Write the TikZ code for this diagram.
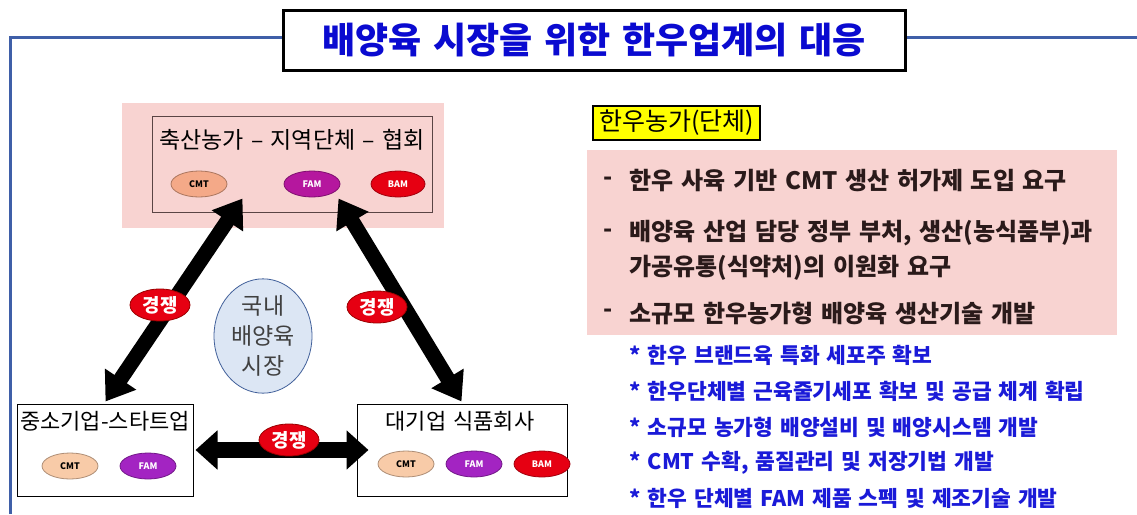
\documentclass[tikz,border=0pt]{standalone}
\usepackage{fontspec}
\setmainfont{Noto Sans CJK KR}[WordSpace=1.4]
\usetikzlibrary{arrows.meta,shapes.geometric,calc}
\definecolor{frameblue}{HTML}{3F5FA8}
\definecolor{titleblue}{HTML}{0A0AD0}
\definecolor{pinkbg}{HTML}{F8D3D1}
\definecolor{boxline}{HTML}{5A4444}
\definecolor{cmttop}{HTML}{F4A988}
\definecolor{cmtbot}{HTML}{F8CBA8}
\definecolor{famtop}{HTML}{B5179E}
\definecolor{fambot}{HTML}{A324C2}
\definecolor{bamred}{HTML}{E60012}
\definecolor{circfill}{HTML}{DCE6F4}
\definecolor{circline}{HTML}{41609A}
\definecolor{darktext}{HTML}{2A1A1A}
\definecolor{itemblue}{HTML}{1A1AD8}
\definecolor{hlyellow}{HTML}{FFFF00}
\tikzset{
  fs/.style={font=\fontsize{#1}{#1}\selectfont},
  entity/.style={draw=black, line width=1pt, fill=white, minimum width=176, minimum height=92},
  tag/.style={ellipse, draw=#1!70!black, line width=0.8pt, fill=#1, minimum width=56, minimum height=26, inner sep=0pt, font=\fontsize{9}{9}\selectfont\bfseries},
  fight/.style={ellipse, draw=red!60!black, line width=0.8pt, fill=bamred, text=white, minimum width=60, minimum height=32, inner sep=0pt, font=\fontsize{19}{19}\selectfont\bfseries},
  bigarrow/.style={line width=15pt, {Triangle[length=27pt,width=36pt]}-{Triangle[length=27pt,width=36pt]}},
  redline/.style={anchor=west, text=darktext, font=\fontsize{24}{24}\selectfont\bfseries},
  blueline/.style={anchor=west, text=itemblue, font=\fontsize{21.5}{21.5}\selectfont\bfseries},
}
\begin{document}
\begin{tikzpicture}[x=1pt,y=-1pt]
\useasboundingbox (0,0) rectangle (1137,514);
\fill[white] (0,0) rectangle (1137,514);
% frame
\draw[frameblue, line width=3pt] (10,514) -- (10,37) -- (1137,37);
\node[draw=black, line width=3pt, fill=white, minimum width=622, minimum height=60, text=titleblue,
      font=\fontsize{36}{36}\selectfont\bfseries] (title) at (594,40) {배양육 시장을 위한 한우업계의 대응};
% left diagram
\fill[pinkbg] (122,103) rectangle (444,228);
\node[draw=boxline, line width=1pt, minimum width=280, minimum height=96] (top) at (292,164) {};
\node[fs=23, anchor=center] (toptext) at (292,140) {축산농가 – 지역단체 – 협회};
\node[tag=cmttop] (tcmt) at (199,184) {CMT};
\node[tag=famtop, text=white] (tfam) at (312,184) {FAM};
\node[tag=bamred, text=white, minimum width=54] (tbam) at (398,184) {BAM};

\node[entity] (bl) at (105,450) {};
\node[fs=22] (bltext) at (105,421) {중소기업-스타트업};
\node[tag=cmtbot] (blcmt) at (70,466) {CMT};
\node[tag=fambot, text=white] (blfam) at (148,466) {FAM};

\node[entity, minimum width=210] (br) at (462,450) {};
\node[fs=22] (brtext) at (460,421) {대기업 식품회사};
\node[tag=cmtbot] (brcmt) at (406,464) {CMT};
\node[tag=fambot, text=white] (brfam) at (474,464) {FAM};
\node[tag=bamred, text=white] (brbam) at (542,464) {BAM};

\node[ellipse, draw=circline, line width=0.8pt, fill=circfill, minimum width=98, minimum height=108, inner sep=0pt,
      text=black!75, align=center, font=\fontsize{23}{30}\selectfont] (market) at (263,336) {국내\\배양육\\시장};

\draw[bigarrow] ([xshift=91pt,yshift=14pt]top.south west) -- ([xshift=89pt,yshift=2pt]bl.north west);
\draw[bigarrow] ([xshift=-94pt,yshift=14pt]top.south east) -- ([xshift=105pt,yshift=2pt]br.north west);
\draw[line width=16pt, {Triangle[length=22pt,width=38pt]}-{Triangle[length=22pt,width=38pt]}] ([xshift=2pt]bl.east) -- ([xshift=12pt]br.west);

\node[fight] (f1) at (160,305) {경쟁};
\node[fight] (f2) at (377,307) {경쟁};
\node[fight] (f3) at (289,440) {경쟁};

% right side
\node[draw=black, line width=2pt, fill=hlyellow, anchor=west, minimum height=34, inner ysep=0pt, inner xsep=6pt,
      font=\fontsize{25}{25}\selectfont] (hanwoo) at (592,123) {한우농가(단체)};
\fill[pinkbg] (587,150) rectangle (1117,335);
\node[redline] (d1) at (600,181) {-};
\node[redline] (r1) at (626,181) {한우 사육 기반 CMT 생산 허가제 도입 요구};
\node[redline] (d2) at (600,233) {-};
\node[redline] (r2) at (626,233) {배양육 산업 담당 정부 부처, 생산(농식품부)과};
\node[redline] (r3) at (626,268) {가공유통(식약처)의 이원화 요구};
\node[redline] (d3) at (600,313) {-};
\node[redline] (r4) at (626,313) {소규모 한우농가형 배양육 생산기술 개발};

\node[blueline] (b1) at (626,355) {* 한우 브랜드육 특화 세포주 확보};
\node[blueline] (b2) at (626,391) {* 한우단체별 근육줄기세포 확보 및 공급 체계 확립};
\node[blueline] (b3) at (626,427) {* 소규모 농가형 배양설비 및 배양시스템 개발};
\node[blueline] (b4) at (626,463) {* CMT 수확, 품질관리 및 저장기법 개발};
\node[blueline] (b5) at (626,498) {* 한우 단체별 FAM 제품 스펙 및 제조기술 개발};
\end{tikzpicture}
\end{document}
